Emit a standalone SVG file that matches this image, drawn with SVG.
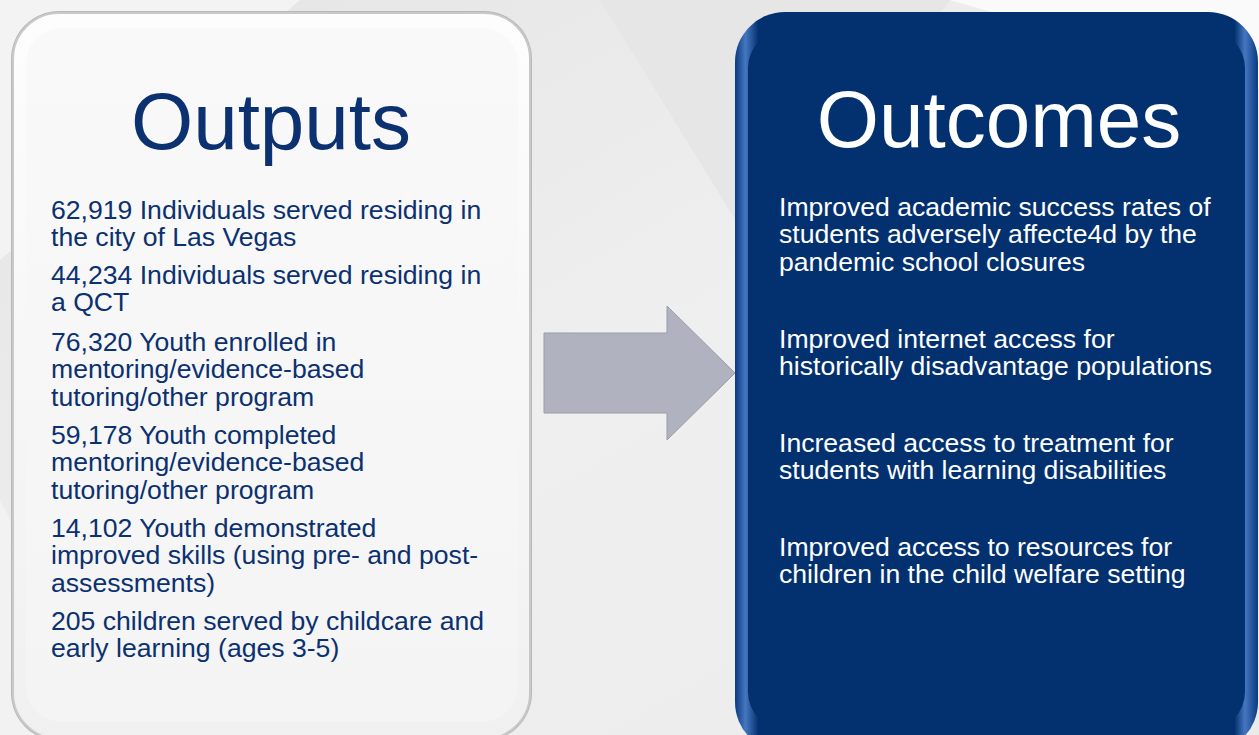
<svg xmlns="http://www.w3.org/2000/svg" width="1259" height="735" viewBox="0 0 1259 735">
<defs>
<style>
.t{font-family:"Liberation Sans",Arial,sans-serif;font-size:26.6px}
.dk{fill:#0b3170}
.wt{fill:#ffffff}
.title{font-family:"Liberation Sans",Arial,sans-serif;font-size:80px;text-anchor:middle}
</style>
<linearGradient id="bg" x1="0" y1="0" x2="1" y2="1">
<stop offset="0" stop-color="#e4e4e4"/>
<stop offset="0.5" stop-color="#efefef"/>
<stop offset="1" stop-color="#ebebeb"/>
</linearGradient>
<linearGradient id="lf" x1="0" y1="0" x2="0" y2="1">
<stop offset="0" stop-color="#fdfdfd"/>
<stop offset="1" stop-color="#f0f0f0"/>
</linearGradient>
<linearGradient id="rb" x1="0" y1="0" x2="1" y2="0">
<stop offset="0" stop-color="#0a3a80"/>
<stop offset="0.02" stop-color="#4577c0"/>
<stop offset="0.045" stop-color="#03316f"/>
<stop offset="0.955" stop-color="#03316f"/>
<stop offset="0.975" stop-color="#4577c0"/>
<stop offset="1" stop-color="#0a3a80"/>
</linearGradient>
</defs>
<rect x="0" y="0" width="1259" height="735" fill="url(#bg)"/>
<polygon points="0,0 300,0 0,260" fill="#f3f3f3"/>
<polygon points="600,0 950,0 760,260" fill="#e6e6e6"/>
<polygon points="950,0 1259,0 1259,90" fill="#fafafa"/>
<polygon points="0,500 120,735 0,735" fill="#f2f2f2"/>
<g id="outputs">
<rect x="11" y="11" width="521" height="730" rx="48" fill="#b8b8b8"/>
<rect x="13" y="13" width="517" height="726" rx="46" fill="url(#lf)" stroke="#c9c9c9" stroke-width="2"/>
<rect x="26" y="28" width="492" height="694" rx="36" fill="#f6f6f6" opacity="0.6"/>
<text class="title dk" x="271" y="149">Outputs</text>
<text class="t dk" x="51"><tspan x="51" y="219">62,919 Individuals served residing in</tspan><tspan x="51" y="246">the city of Las Vegas</tspan><tspan x="51" y="284">44,234 Individuals served residing in</tspan><tspan x="51" y="311">a QCT</tspan><tspan x="51" y="351">76,320 Youth enrolled in</tspan><tspan x="51" y="378">mentoring/evidence-based</tspan><tspan x="51" y="406">tutoring/other program</tspan><tspan x="51" y="444">59,178 Youth completed</tspan><tspan x="51" y="471">mentoring/evidence-based</tspan><tspan x="51" y="499">tutoring/other program</tspan><tspan x="51" y="537">14,102 Youth demonstrated</tspan><tspan x="51" y="564">improved skills (using pre- and post-</tspan><tspan x="51" y="592">assessments)</tspan><tspan x="51" y="630">205 children served by childcare and</tspan><tspan x="51" y="657">early learning (ages 3-5)</tspan></text>
</g>
<g id="connectors">
<polygon points="544,333 667,333 667,306 735,373 667,440 667,413 544,413" fill="#b0b2bf" stroke="#9a9cab" stroke-width="1"/>
</g>
<g id="outcomes">
<rect x="735" y="12" width="523" height="740" rx="50" fill="url(#rb)"/>
<rect x="748" y="30" width="497" height="700" rx="38" fill="#03316f"/>
<text class="title wt" x="999" y="147">Outcomes</text>
<text class="t wt"><tspan x="779" y="216">Improved academic success rates of</tspan><tspan x="779" y="243">students adversely affecte4d by the</tspan><tspan x="779" y="271">pandemic school closures</tspan><tspan x="779" y="348">Improved internet access for</tspan><tspan x="779" y="375">historically disadvantage populations</tspan><tspan x="779" y="452">Increased access to treatment for</tspan><tspan x="779" y="479">students with learning disabilities</tspan><tspan x="779" y="556">Improved access to resources for</tspan><tspan x="779" y="583">children in the child welfare setting</tspan></text>
</g>
</svg>
